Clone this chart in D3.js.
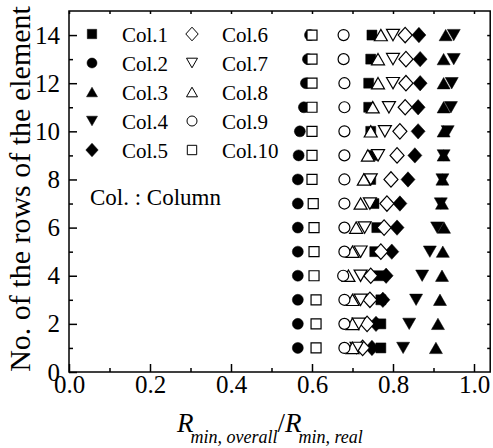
<!DOCTYPE html>
<html>
<head>
<meta charset="utf-8">
<script src="https://cdn.jsdelivr.net/npm/d3@7"></script>
<style>
    body { margin: 0; background: #fff; }
    svg text { font-family: "Liberation Serif", "Times New Roman", serif !important; fill: #000; }
</style>
</head>
<body>
<div id="chart"></div>
<script>
// row number of the element (y) and Rmin,overall/Rmin,real per column (x)
const rows = [1, 2, 3, 4, 5, 6, 7, 8, 9, 10, 11, 12, 13, 14];
const col1 = [0.77, 0.77, 0.77, 0.765, 0.755, 0.76, 0.753, 0.745, 0.748, 0.745, 0.74, 0.74, 0.745, 0.748];
const col2 = [0.565, 0.565, 0.565, 0.565, 0.565, 0.565, 0.565, 0.565, 0.567, 0.57, 0.58, 0.585, 0.59, 0.595];
const col3 = [0.906, 0.911, 0.916, 0.921, 0.923, 0.926, 0.921, 0.922, 0.925, 0.925, 0.925, 0.925, 0.925, 0.93];
const col4 = [0.825, 0.84, 0.857, 0.872, 0.891, 0.909, 0.918, 0.922, 0.925, 0.935, 0.943, 0.945, 0.95, 0.95];
const col5 = [0.748, 0.758, 0.775, 0.783, 0.797, 0.81, 0.817, 0.837, 0.854, 0.862, 0.862, 0.867, 0.867, 0.864];
const col6 = [0.725, 0.736, 0.743, 0.745, 0.77, 0.778, 0.785, 0.795, 0.81, 0.817, 0.83, 0.832, 0.832, 0.83];
const col7 = [0.71, 0.715, 0.72, 0.72, 0.72, 0.73, 0.743, 0.745, 0.763, 0.78, 0.79, 0.8, 0.8, 0.8];
const col8 = [0.70, 0.70, 0.70, 0.69, 0.70, 0.709, 0.72, 0.728, 0.738, 0.745, 0.75, 0.763, 0.763, 0.77];
const col9 = [0.68, 0.68, 0.68, 0.677, 0.68, 0.68, 0.68, 0.68, 0.68, 0.68, 0.68, 0.68, 0.678, 0.678];
const col10 = [0.61, 0.61, 0.61, 0.605, 0.605, 0.605, 0.603, 0.60, 0.60, 0.60, 0.60, 0.60, 0.60, 0.60];

const seriesNames = ["Col.1", "Col.2", "Col.3", "Col.4", "Col.5", "Col.6", "Col.7", "Col.8", "Col.9", "Col.10"];
const seriesValues = [col1, col2, col3, col4, col5, col6, col7, col8, col9, col10];

const xTickValues = [0, 0.2, 0.4, 0.6, 0.8, 1.0];
const yTickValues = [0, 2, 4, 6, 8, 10, 12, 14];

// marker style per series
const shapes = ["square", "circle", "up", "down", "diamond", "diamond", "down", "up", "circle", "square"];
const filled = [true, true, true, true, true, false, false, false, false, false];
const markerR = { square: 5, circle: 5.5, up: 6.5, down: 6.5, diamond: 7 };
const legendR = { square: 4.7, circle: 5, up: 5.5, down: 5.5, diamond: 6.2 };

const width = 493, height = 448;
const left = 69, bottom = 372;
const serif = '"Liberation Serif", "Times New Roman", serif';

const x = d3.scaleLinear().domain([0, 1.04]).range([left, left + 1.04 * 405]);
const y = d3.scaleLinear().domain([0, 15]).range([bottom, 11]);

const svg = d3.select('#chart').append('svg')
    .attr('width', width)
    .attr('height', height)
    .attr('font-family', serif);

function shapePath(type, r) {
    if (type === 'circle') {
        return `M${-r},0A${r},${r} 0 1,0 ${r},0A${r},${r} 0 1,0 ${-r},0Z`;
    }
    if (type === 'square') {
        return `M${-r},${-r}H${r}V${r}H${-r}Z`;
    }
    const h = r * 1.75;
    if (type === 'up') {
        return `M0,${-h / 2}L${r},${h / 2}L${-r},${h / 2}Z`;
    }
    if (type === 'down') {
        return `M0,${h / 2}L${r},${-h / 2}L${-r},${-h / 2}Z`;
    }
    const d = r * 1.1;
    return `M0,${-d}L${r},0L0,${d}L${-r},0Z`;
}

// frame
svg.append('rect')
    .attr('x', x(0))
    .attr('y', y(15))
    .attr('width', x(1.04) - x(0))
    .attr('height', y(0) - y(15))
    .attr('fill', 'none')
    .attr('stroke', '#000')
    .attr('stroke-width', 1.5);

// axes, ticks pointing inward
const xAxis = svg.append('g')
    .attr('transform', `translate(0,${bottom})`)
    .call(d3.axisBottom(x).tickValues(xTickValues).tickSizeInner(-8).tickSizeOuter(0).tickPadding(3)
        .tickFormat(d3.format('.1f')));
svg.append('g')
    .attr('transform', `translate(0,${bottom})`)
    .call(d3.axisBottom(x).tickValues([0.1, 0.3, 0.5, 0.7, 0.9]).tickSizeInner(-4).tickSizeOuter(0).tickFormat(''));

const yAxis = svg.append('g')
    .attr('transform', `translate(${left},0)`)
    .call(d3.axisLeft(y).tickValues(yTickValues).tickSizeInner(-8).tickSizeOuter(0).tickPadding(9));
svg.append('g')
    .attr('transform', `translate(${left},0)`)
    .call(d3.axisLeft(y).tickValues([1, 3, 5, 7, 9, 11, 13]).tickSizeInner(-4).tickSizeOuter(0).tickFormat(''));

// small mirror ticks on top and right
svg.append('g')
    .attr('transform', `translate(0,${y(15)})`)
    .call(d3.axisTop(x).tickValues([0, 0.1, 0.2, 0.3, 0.4, 0.5, 0.6, 0.7, 0.8, 0.9, 1.0]).tickSizeInner(-3).tickSizeOuter(0).tickFormat(''));
svg.append('g')
    .attr('transform', `translate(${x(1.04)},0)`)
    .call(d3.axisRight(y).tickValues(d3.range(1, 15)).tickSizeInner(-3).tickSizeOuter(0).tickFormat(''));

svg.selectAll('.domain').remove();
svg.selectAll('g').attr('font-family', serif);
svg.selectAll('.tick line').attr('stroke', '#000').attr('stroke-width', 1.5);
xAxis.selectAll('text').style('font-size', '25px');
yAxis.selectAll('text').style('font-size', '25px');

// data points, drawn column by column so later columns sit on top
seriesValues.forEach((vals, i) => {
    svg.append('g')
        .selectAll('path')
        .data(vals)
        .join('path')
        .attr('transform', (d, j) => `translate(${x(d)},${y(rows[j])})`)
        .attr('d', shapePath(shapes[i], markerR[shapes[i]]))
        .attr('fill', filled[i] ? '#000' : '#fff')
        .attr('stroke', '#000')
        .attr('stroke-width', filled[i] ? 0.5 : 1.2);
});

// legend, two columns of five
const legend = svg.append('g');
seriesNames.forEach((name, i) => {
    const lx = i < 5 ? 92 : 192;
    const ly = 34 + (i % 5) * 29;
    legend.append('path')
        .attr('transform', `translate(${lx},${ly})`)
        .attr('d', shapePath(shapes[i], legendR[shapes[i]]))
        .attr('fill', filled[i] ? '#000' : '#fff')
        .attr('stroke', '#000')
        .attr('stroke-width', filled[i] ? 0.5 : 1);
    legend.append('text')
        .attr('x', lx + 30)
        .attr('y', ly + 8)
        .style('font-size', '21px')
        .text(name);
});

svg.append('text')
    .attr('x', 90)
    .attr('y', 205)
    .style('font-size', '23px')
    .text('Col. : Column');

// axis titles
svg.append('text')
    .attr('transform', 'rotate(-90)')
    .attr('x', -189)
    .attr('y', 30)
    .style('text-anchor', 'middle')
    .style('font-size', '30px')
    .text('No. of the rows of the element');

const xTitle = svg.append('text')
    .attr('x', 177)
    .attr('y', 432)
    .style('font-size', '27px');
xTitle.append('tspan').style('font-style', 'italic').text('R');
xTitle.append('tspan').style('font-style', 'italic').style('font-size', '18px')
    .attr('dx', -3).attr('dy', 11).text('min, overall');
xTitle.append('tspan').attr('dy', -11).text('/');
xTitle.append('tspan').style('font-style', 'italic').text('R');
xTitle.append('tspan').style('font-style', 'italic').style('font-size', '18px')
    .attr('dx', -3).attr('dy', 11).text('min, real');
</script>
</body>
</html>
